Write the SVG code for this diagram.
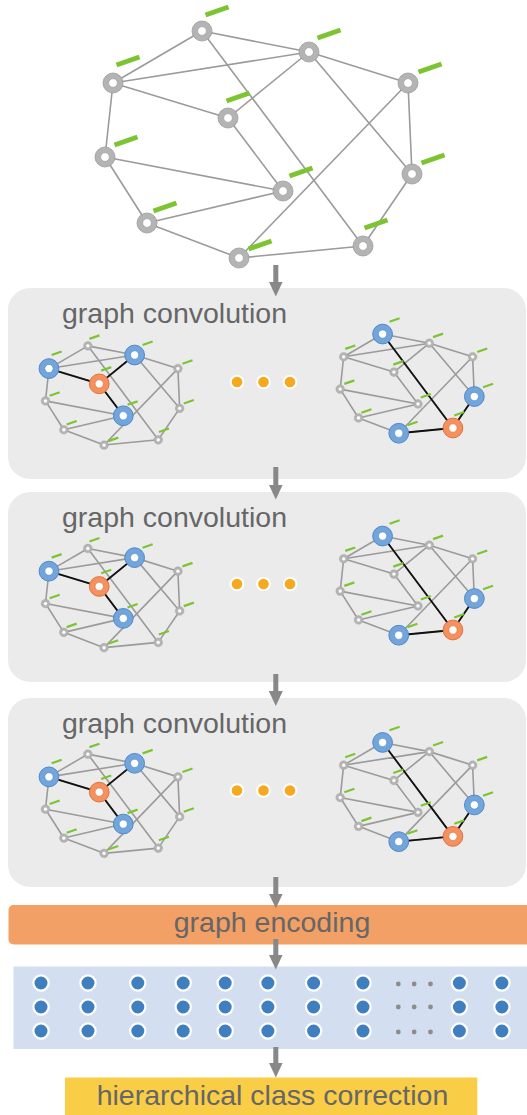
<svg xmlns="http://www.w3.org/2000/svg" xmlns:xlink="http://www.w3.org/1999/xlink" width="527" height="1115" viewBox="0 0 527 1115">
<style>
.edge{fill:none;stroke:#9b9b9b;stroke-width:1.6;vector-effect:non-scaling-stroke}
.hl{fill:none;stroke:#111;stroke-width:1.8;vector-effect:non-scaling-stroke}
.go{fill:#b4b4b4;stroke:#9c9c9c;stroke-width:0.8}
.gi{fill:#fff;stroke:#9c9c9c;stroke-width:0.6}
.dash{fill:none;stroke:#7cc432;stroke-width:5}
.bo{fill:#72a5dc;stroke:#4d85c4;stroke-width:2.2}
.oo{fill:#f4915e;stroke:#df6f3c;stroke-width:2.2}
.bi{fill:#fff;stroke:#4d85c4;stroke-width:1.4}
.oi{fill:#fff;stroke:#df6f3c;stroke-width:1.4}
.panel{fill:#ebebeb}
.title{font-family:"Liberation Sans",Arial,sans-serif;font-size:28.5px;fill:#666}
.odot{fill:#f6a81f;stroke:#fff;stroke-width:2}
.bdot{fill:#3f7fc0;stroke:#fff;stroke-width:2.2}
.gdot{fill:#8c8c8c}
.arrow{fill:none;stroke:#888;stroke-width:5;marker-end:url(#ah)}
</style>
<defs>
<marker id="ah" viewBox="0 0 15 14" refX="0.5" refY="7" markerWidth="15" markerHeight="14" markerUnits="userSpaceOnUse" orient="auto"><path d="M0,0 L15,7 L0,14 z" fill="#888"/></marker>
<g id="mini-left">
<path class="edge" d="M202,31 L113,83 M202,31 L309,52 M202,31 L363,246 M113,83 L309,52 M113,83 L228,118 M113,83 L105,157 M309,52 L228,118 M309,52 L408,83 M309,52 L412,174 M408,83 L239,258 M408,83 L412,174 M228,118 L283,191 M105,157 L283,191 M105,157 L147,223 M147,223 L283,191 M147,223 L239,258 M239,258 L363,246 M412,174 L363,246"/>
<path class="hl" d="M113,83 L228,118 M309,52 L228,118 M228,118 L283,191"/>
<g id="ml-A"><circle class="go" cx="202" cy="31" r="10"/><circle class="gi" cx="202" cy="31" r="4.3"/><path class="dash" d="M205.5,15 l23,-8"/></g>
<g id="ml-B"><circle class="bo" cx="309" cy="52" r="22.6"/><circle class="bi" cx="309" cy="52" r="9.5"/><path class="dash" d="M327.2,29.2 l23,-8"/></g>
<g id="ml-C"><circle class="bo" cx="113" cy="83" r="22.6"/><circle class="bi" cx="113" cy="83" r="9.5"/><path class="dash" d="M119.1,52 l23,-8"/></g>
<g id="ml-D"><circle class="go" cx="408" cy="83" r="10"/><circle class="gi" cx="408" cy="83" r="4.3"/><path class="dash" d="M418.5,72 l23,-8"/></g>
<g id="ml-E"><circle class="oo" cx="228" cy="118" r="22.6"/><circle class="oi" cx="228" cy="118" r="9.5"/><path class="dash" d="M232.5,87.7 l23,-8"/></g>
<g id="ml-F"><circle class="go" cx="105" cy="157" r="10"/><circle class="gi" cx="105" cy="157" r="4.3"/><path class="dash" d="M114.5,145 l23,-8"/></g>
<g id="ml-G"><circle class="go" cx="412" cy="174" r="10"/><circle class="gi" cx="412" cy="174" r="4.3"/><path class="dash" d="M421.5,163 l23,-8"/></g>
<g id="ml-H"><circle class="bo" cx="283" cy="191" r="22.6"/><circle class="bi" cx="283" cy="191" r="9.5"/><path class="dash" d="M292.8,166 l23,-8"/></g>
<g id="ml-I"><circle class="go" cx="147" cy="223" r="10"/><circle class="gi" cx="147" cy="223" r="4.3"/><path class="dash" d="M153.5,211 l23,-8"/></g>
<g id="ml-J"><circle class="go" cx="363" cy="246" r="10"/><circle class="gi" cx="363" cy="246" r="4.3"/><path class="dash" d="M364.5,228 l23,-8"/></g>
<g id="ml-K"><circle class="go" cx="239" cy="258" r="10"/><circle class="gi" cx="239" cy="258" r="4.3"/><path class="dash" d="M248.5,249 l23,-8"/></g>
</g>
<g id="mini-right">
<path class="edge" d="M202,31 L113,83 M202,31 L309,52 M202,31 L363,246 M113,83 L309,52 M113,83 L228,118 M113,83 L105,157 M309,52 L228,118 M309,52 L408,83 M309,52 L412,174 M408,83 L239,258 M408,83 L412,174 M228,118 L283,191 M105,157 L283,191 M105,157 L147,223 M147,223 L283,191 M147,223 L239,258 M239,258 L363,246 M412,174 L363,246"/>
<path class="hl" d="M202,31 L363,246 M412,174 L363,246 M239,258 L363,246"/>
<g id="mr-A"><circle class="bo" cx="202" cy="31" r="22.6"/><circle class="bi" cx="202" cy="31" r="9.5"/><path class="dash" d="M218,3 l23,-8"/></g>
<g id="mr-B"><circle class="go" cx="309" cy="52" r="10"/><circle class="gi" cx="309" cy="52" r="4.3"/><path class="dash" d="M317.5,38 l23,-8"/></g>
<g id="mr-C"><circle class="go" cx="113" cy="83" r="10"/><circle class="gi" cx="113" cy="83" r="4.3"/><path class="dash" d="M116.5,65 l23,-8"/></g>
<g id="mr-D"><circle class="go" cx="408" cy="83" r="10"/><circle class="gi" cx="408" cy="83" r="4.3"/><path class="dash" d="M418.5,72 l23,-8"/></g>
<g id="mr-E"><circle class="go" cx="228" cy="118" r="10"/><circle class="gi" cx="228" cy="118" r="4.3"/><path class="dash" d="M226.5,101 l23,-8"/></g>
<g id="mr-F"><circle class="go" cx="105" cy="157" r="10"/><circle class="gi" cx="105" cy="157" r="4.3"/><path class="dash" d="M114.5,145 l23,-8"/></g>
<g id="mr-G"><circle class="bo" cx="412" cy="174" r="22.6"/><circle class="bi" cx="412" cy="174" r="9.5"/><path class="dash" d="M431.8,152.8 l23,-8"/></g>
<g id="mr-H"><circle class="go" cx="283" cy="191" r="10"/><circle class="gi" cx="283" cy="191" r="4.3"/><path class="dash" d="M289.5,176 l23,-8"/></g>
<g id="mr-I"><circle class="go" cx="147" cy="223" r="10"/><circle class="gi" cx="147" cy="223" r="4.3"/><path class="dash" d="M153.5,211 l23,-8"/></g>
<g id="mr-J"><circle class="oo" cx="363" cy="246" r="22.6"/><circle class="oi" cx="363" cy="246" r="9.5"/><path class="dash" d="M366,217.2 l23,-8"/></g>
<g id="mr-K"><circle class="bo" cx="239" cy="258" r="22.6"/><circle class="bi" cx="239" cy="258" r="9.5"/><path class="dash" d="M258.8,239.9 l23,-8"/></g>
</g>
</defs>

<g id="input-graph">
<g id="input-edges">
<path class="edge" d="M202,31 L113,83 M202,31 L309,52 M202,31 L363,246 M113,83 L309,52 M113,83 L228,118 M113,83 L105,157 M309,52 L228,118 M309,52 L408,83 M309,52 L412,174 M408,83 L239,258 M408,83 L412,174 M228,118 L283,191 M105,157 L283,191 M105,157 L147,223 M147,223 L283,191 M147,223 L239,258 M239,258 L363,246 M412,174 L363,246"/>
</g>
<g id="n-A"><circle class="go" cx="202" cy="31" r="10"/><circle class="gi" cx="202" cy="31" r="4.3"/><path class="dash" d="M205.5,15 l23,-8"/></g>
<g id="n-B"><circle class="go" cx="309" cy="52" r="10"/><circle class="gi" cx="309" cy="52" r="4.3"/><path class="dash" d="M317.5,38 l23,-8"/></g>
<g id="n-C"><circle class="go" cx="113" cy="83" r="10"/><circle class="gi" cx="113" cy="83" r="4.3"/><path class="dash" d="M116.5,65 l23,-8"/></g>
<g id="n-D"><circle class="go" cx="408" cy="83" r="10"/><circle class="gi" cx="408" cy="83" r="4.3"/><path class="dash" d="M418.5,72 l23,-8"/></g>
<g id="n-E"><circle class="go" cx="228" cy="118" r="10"/><circle class="gi" cx="228" cy="118" r="4.3"/><path class="dash" d="M226.5,101 l23,-8"/></g>
<g id="n-F"><circle class="go" cx="105" cy="157" r="10"/><circle class="gi" cx="105" cy="157" r="4.3"/><path class="dash" d="M114.5,145 l23,-8"/></g>
<g id="n-G"><circle class="go" cx="412" cy="174" r="10"/><circle class="gi" cx="412" cy="174" r="4.3"/><path class="dash" d="M421.5,163 l23,-8"/></g>
<g id="n-H"><circle class="go" cx="283" cy="191" r="10"/><circle class="gi" cx="283" cy="191" r="4.3"/><path class="dash" d="M289.5,176 l23,-8"/></g>
<g id="n-I"><circle class="go" cx="147" cy="223" r="10"/><circle class="gi" cx="147" cy="223" r="4.3"/><path class="dash" d="M153.5,211 l23,-8"/></g>
<g id="n-J"><circle class="go" cx="363" cy="246" r="10"/><circle class="gi" cx="363" cy="246" r="4.3"/><path class="dash" d="M364.5,228 l23,-8"/></g>
<g id="n-K"><circle class="go" cx="239" cy="258" r="10"/><circle class="gi" cx="239" cy="258" r="4.3"/><path class="dash" d="M248.5,249 l23,-8"/></g>
</g>

<g id="conv1">
<rect class="panel" x="8" y="288" width="518" height="191" rx="22"/>
<text class="title" x="62" y="323">graph convolution</text>
<g id="conv1-left"><use href="#mini-left" transform="translate(-0.4,332.3) scale(0.437)"/></g>
<g id="conv1-dots"><circle class="odot" cx="237" cy="382" r="6.3"/><circle class="odot" cx="263.5" cy="382" r="6.3"/><circle class="odot" cx="290" cy="382" r="6.3"/></g>
<g id="conv1-right"><use href="#mini-right" transform="translate(294.3,320.5) scale(0.437)"/></g>
</g>

<g id="conv2">
<rect class="panel" x="8" y="492" width="518" height="190" rx="22"/>
<text class="title" x="62" y="526.5">graph convolution</text>
<g id="conv2-left"><use href="#mini-left" transform="translate(-0.4,534.9) scale(0.437)"/></g>
<g id="conv2-dots"><circle class="odot" cx="237" cy="584" r="6.3"/><circle class="odot" cx="263.5" cy="584" r="6.3"/><circle class="odot" cx="290" cy="584" r="6.3"/></g>
<g id="conv2-right"><use href="#mini-right" transform="translate(294.3,522.5) scale(0.437)"/></g>
</g>

<g id="conv3">
<rect class="panel" x="8" y="698" width="518" height="189" rx="22"/>
<text class="title" x="62" y="732.5">graph convolution</text>
<g id="conv3-left"><use href="#mini-left" transform="translate(-0.4,740.6) scale(0.437)"/></g>
<g id="conv3-dots"><circle class="odot" cx="237" cy="790.5" r="6.3"/><circle class="odot" cx="263.5" cy="790.5" r="6.3"/><circle class="odot" cx="290" cy="790.5" r="6.3"/></g>
<g id="conv3-right"><use href="#mini-right" transform="translate(294.3,728.9) scale(0.437)"/></g>
</g>

<g id="encoding">
<rect x="8.5" y="905" width="530" height="39.5" rx="5" fill="#f2a065"/>
<text class="title" x="272" y="931.5" text-anchor="middle">graph encoding</text>
</g>

<g id="features">
<rect x="13.5" y="966.5" width="520" height="82.5" fill="#d3dff1"/>
<g id="feat-dots">
<circle class="bdot" cx="41" cy="983" r="7.6"/><circle class="bdot" cx="41" cy="1007" r="7.6"/><circle class="bdot" cx="41" cy="1031" r="7.6"/>
<circle class="bdot" cx="88" cy="983" r="7.6"/><circle class="bdot" cx="88" cy="1007" r="7.6"/><circle class="bdot" cx="88" cy="1031" r="7.6"/>
<circle class="bdot" cx="137.8" cy="983" r="7.6"/><circle class="bdot" cx="137.8" cy="1007" r="7.6"/><circle class="bdot" cx="137.8" cy="1031" r="7.6"/>
<circle class="bdot" cx="183.2" cy="983" r="7.6"/><circle class="bdot" cx="183.2" cy="1007" r="7.6"/><circle class="bdot" cx="183.2" cy="1031" r="7.6"/>
<circle class="bdot" cx="225.2" cy="983" r="7.6"/><circle class="bdot" cx="225.2" cy="1007" r="7.6"/><circle class="bdot" cx="225.2" cy="1031" r="7.6"/>
<circle class="bdot" cx="267.9" cy="983" r="7.6"/><circle class="bdot" cx="267.9" cy="1007" r="7.6"/><circle class="bdot" cx="267.9" cy="1031" r="7.6"/>
<circle class="bdot" cx="313.6" cy="983" r="7.6"/><circle class="bdot" cx="313.6" cy="1007" r="7.6"/><circle class="bdot" cx="313.6" cy="1031" r="7.6"/>
<circle class="bdot" cx="363" cy="983" r="7.6"/><circle class="bdot" cx="363" cy="1007" r="7.6"/><circle class="bdot" cx="363" cy="1031" r="7.6"/>
<circle class="gdot" cx="398.3" cy="984" r="2.4"/><circle class="gdot" cx="414.2" cy="984" r="2.4"/><circle class="gdot" cx="430.5" cy="984" r="2.4"/>
<circle class="gdot" cx="398.3" cy="1007" r="2.4"/><circle class="gdot" cx="414.2" cy="1007" r="2.4"/><circle class="gdot" cx="430.5" cy="1007" r="2.4"/>
<circle class="gdot" cx="398.3" cy="1032" r="2.4"/><circle class="gdot" cx="414.2" cy="1032" r="2.4"/><circle class="gdot" cx="430.5" cy="1032" r="2.4"/>
<circle class="bdot" cx="459.4" cy="983" r="7.6"/><circle class="bdot" cx="459.4" cy="1007" r="7.6"/><circle class="bdot" cx="459.4" cy="1031" r="7.6"/>
<circle class="bdot" cx="501.9" cy="983" r="7.6"/><circle class="bdot" cx="501.9" cy="1007" r="7.6"/><circle class="bdot" cx="501.9" cy="1031" r="7.6"/>
</g>
</g>

<g id="correction">
<rect x="65" y="1077.5" width="412.3" height="45" fill="#f9cd45"/>
<text class="title" x="272.5" y="1105" text-anchor="middle">hierarchical class correction</text>
</g>

<g id="connectors">
<path class="arrow" d="M275.8,265 V282"/>
<path class="arrow" d="M275.8,467 V485"/>
<path class="arrow" d="M275.8,674 V691.5"/>
<path class="arrow" d="M275.8,877 V894"/>
<path class="arrow" d="M275.8,939 V955"/>
<path class="arrow" d="M275.8,1047 V1063"/>
</g>
</svg>
